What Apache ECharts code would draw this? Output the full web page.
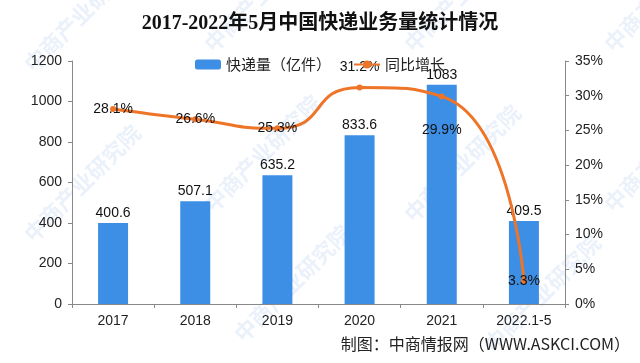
<!DOCTYPE html>
<html><head><meta charset="utf-8">
<script src="https://cdn.jsdelivr.net/npm/echarts@6/dist/echarts.min.js"></script>
<style>html,body{margin:0;padding:0;background:#fff}#c{width:640px;height:363px}</style>
</head><body><div id="c"></div>
<script>
var categories = ['2017','2018','2019','2020','2021','2022.1-5'];
var volume = [400.6, 507.1, 635.2, 833.6, 1083, 409.5];
var growth = [28.1, 26.6, 25.3, 31.2, 29.9, 3.3];
var growthLabelPos = ['inside','inside','inside','top','bottom','inside'];

var chart = echarts.init(document.getElementById('c'));
var wm = [];
var wmPos = [[20,60],[200,40],[400,40],[600,40],[20,230],[200,200],[400,210],[600,200],[230,330],[480,340]];
wmPos.forEach(function(p){
  wm.push({type:'text', x:p[0], y:p[1], rotation:Math.PI/4, silent:true, z:0,
    style:{text:'中商产业研究院', fill:'rgba(90,140,210,0.12)', font:'bold 22px "Noto Sans CJK SC"'}});
});
chart.setOption({
  animation:false,
  backgroundColor:'#fff',
  graphic: wm.concat([{type:'text', right:10, bottom:11, style:{text:'制图：中商情报网（WWW.ASKCI.COM）', fill:'#222', font:'16px "Noto Sans CJK SC"'}}]),
  title:{text:'2017-2022年5月中国快递业务量统计情况', left:'center', top:9,
    textStyle:{fontFamily:'"Liberation Serif","Noto Sans CJK SC"', fontSize:20, fontWeight:'bold', color:'#111'}},
  legend:{top:52, left:'center', itemGap:22, itemWidth:26, itemHeight:10,
    textStyle:{fontSize:15, color:'#222', fontFamily:'"Noto Sans CJK SC"'},
    data:[{name:'快递量（亿件）'},{name:'同比增长'}]},
  grid:{left:72, right:75, top:61, bottom:59},
  xAxis:{type:'category', data:categories,
    axisLine:{lineStyle:{color:'#888'}}, axisTick:{show:true, length:4, lineStyle:{color:'#888'}},
    axisLabel:{color:'#222', fontSize:14, margin:10, fontFamily:'"Liberation Sans"'}},
  yAxis:[
    {type:'value', min:0, max:1200, interval:200, splitLine:{show:false},
     axisLine:{show:true, lineStyle:{color:'#888'}}, axisTick:{show:true, length:4, lineStyle:{color:'#888'}},
     axisLabel:{color:'#222', fontSize:14, margin:10, fontFamily:'"Liberation Sans"', formatter:function(v){return String(v);}}},
    {type:'value', min:0, max:35, interval:5, splitLine:{show:false},
     axisLine:{show:true, lineStyle:{color:'#888'}}, axisTick:{show:true, length:4, lineStyle:{color:'#888'}},
     axisLabel:{color:'#222', fontSize:14, margin:10, formatter:'{value}%', fontFamily:'"Liberation Sans"'}}
  ],
  series:[
    {name:'快递量（亿件）', type:'bar', data:volume, barWidth:30, itemStyle:{color:'#3D8FE6'},
     label:{show:true, position:'top', color:'#111', fontSize:14, distance:3, fontFamily:'"Liberation Sans"'}},
    {name:'同比增长', type:'line', yAxisIndex:1, smooth:0.6,
     data: growth.map(function(v,i){return {value:v, label:{position:growthLabelPos[i], distance: i===4 ? 24 : 10}};}),
     symbol:'circle', symbolSize:6, lineStyle:{color:'#EE7428', width:3}, itemStyle:{color:'#EE7428'},
     label:{show:true, color:'#111', fontSize:14, formatter:'{c}%', fontFamily:'"Liberation Sans"'}}
  ]
});
</script></body></html>
